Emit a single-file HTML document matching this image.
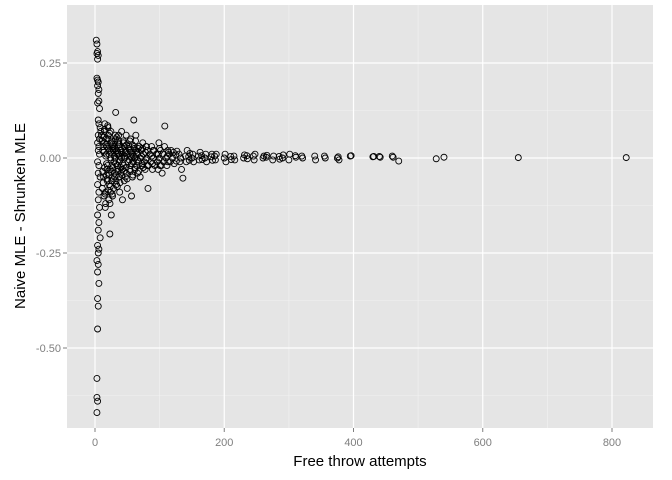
<!DOCTYPE html>
<html><head><meta charset="utf-8"><style>
body{margin:0;background:#fff;}
svg{display:block;font-family:"Liberation Sans",sans-serif;}
</style></head><body>
<svg id="chart" width="672" height="480" viewBox="0 0 672 480">
<rect x="67" y="5" width="586" height="423" fill="#E5E5E5"/>
<g id="grid"></g>
<g id="axes"></g>
<g id="points"></g>
<text x="360" y="466" text-anchor="middle" font-size="15" fill="#000">Free throw attempts</text>
<text transform="translate(25,216) rotate(-90)" text-anchor="middle" font-size="15" fill="#000">Naive MLE - Shrunken MLE</text>
</svg>
<script>
const xTicks=[0,200,400,600,800];
const xMinor=[100,300,500,700];
const yTicks=[0.25,0,-0.25,-0.5];
const yTickLabels=["0.25","0.00","-0.25","-0.50"];
const yMinor=[0.125,-0.125,-0.375,-0.625];
const spineX=[2,3,4,3,5,4,3,4,5,4,6,5,6,4,7,5,6,8,9,5,7,4,6,5,7,4,6,5,8,4,6,5,7,4,6,5,8,4,6,5,3,5,4,6,4,5,4,3,3,4,3];
const spineY=[0.31,0.30,0.28,0.275,0.27,0.26,0.21,0.205,0.2,0.19,0.18,0.17,0.15,0.145,0.13,0.10,0.09,0.08,0.07,0.06,0.05,0.04,0.03,0.02,0.01,-0.01,-0.02,-0.04,-0.05,-0.07,-0.09,-0.11,-0.13,-0.15,-0.17,-0.19,-0.21,-0.23,-0.24,-0.25,-0.27,-0.28,-0.3,-0.33,-0.37,-0.39,-0.45,-0.58,-0.63,-0.64,-0.67];
const groupX=[10,12,15,18,20,22,25,28,30,33,36,40,43,46,50,54,58,62,66,70,75,80,85,90,95,100,105,110,115,120,130,140,150,160,170,185,200,215,230,245,260,275,290,300,320,340,355,375,395,430,440,460,470,528,540,655,822];
const groupY=[[0.06,-0.08,0.03,-0.1,0.09,-0.12],[0.02,-0.05,0.07,-0.13,0.05,-0.03],[0.04,-0.09,0.01,-0.06,0.08,-0.11],[0.03,-0.02,0.06,-0.07,-0.12,0.0],[0.05,-0.04,0.02,-0.09,-0.15],[0.01,-0.03,0.07,-0.06,-0.1],[0.04,-0.02,0.03,-0.08,-0.05,0.06],[0.02,-0.01,-0.04,0.05,-0.07],[0.03,0.0,-0.06,0.01,-0.03,0.06],[0.02,-0.02,0.04,-0.05,-0.09],[0.01,-0.01,0.03,-0.04,0.07,-0.11],[0.02,0.0,-0.03,0.04,-0.06],[0.01,-0.02,0.03,-0.05,0.06],[0.0,0.02,-0.04,-0.08],[0.01,-0.01,0.03,-0.03,0.05,-0.1],[0.02,-0.02,0.0,-0.05],[0.01,-0.01,0.03,-0.03,0.06],[0.0,0.02,-0.02,-0.04],[0.01,-0.01,0.03,-0.05],[0.0,0.02,-0.02,0.04],[0.01,-0.01,-0.03,0.03],[0.0,0.02,-0.02],[0.01,-0.01,0.03,-0.03],[0.0,0.02,-0.02],[0.01,-0.01,-0.03,0.04],[0.0,0.02,-0.02,-0.04],[0.01,-0.01,0.03],[0.0,-0.02,0.02],[0.01,-0.01,0.02],[0.0,0.015,-0.015],[0.01,-0.01,0.0,-0.03],[0.005,-0.01,0.02],[0.0,0.01,-0.01],[0.005,-0.005,0.015],[0.0,0.01,-0.01],[0.005,-0.005,0.01],[0.0,0.01,-0.01],[0.005,-0.005],[0.0,0.008],[0.005,-0.005,0.01],[0.0,0.005],[-0.005,0.005],[0.0,0.008],[-0.005,0.01],[0.005,0.0],[0.005,-0.005],[0.005,0.0],[0.0,0.003,-0.005],[0.005,0.006],[0.003,0.004],[0.004,0.002],[0.005,0.002],[-0.008],[-0.002],[0.002],[0.001],[0.001]];
const group2X=[11,14,17,21,24,27,31,35,38,42,47,52,56,60,65,72,78,88,98,112,125,145,165,180,210,235,265,285,310];
const group2Y=[[0.045,-0.035,-0.065,0.015,0.075],[0.055,-0.025,-0.095,0.005,-0.045],[0.035,-0.015,-0.055,0.085,-0.085],[0.025,-0.045,0.065,-0.075,-0.005],[0.015,-0.035,0.045,-0.095,0.025],[0.035,-0.025,-0.055,0.005,0.045],[0.025,-0.015,-0.045,0.055,-0.075],[0.015,-0.035,0.045,0.005,-0.065],[0.035,-0.005,-0.025,0.015,-0.045],[0.025,-0.015,0.045,-0.035,0.005],[0.015,-0.025,0.035,-0.055],[0.025,-0.005,0.045,-0.035,0.005],[0.015,-0.015,0.035,-0.045],[0.005,0.025,-0.025,0.045],[0.015,-0.005,0.025,-0.035],[0.005,-0.015,0.025,-0.025],[0.015,-0.005,0.03,-0.02],[0.005,-0.015,0.02],[0.01,-0.005,0.025,-0.02],[0.005,-0.01,0.015],[0.008,-0.008,0.018],[0.004,-0.006,0.012],[0.006,-0.004],[0.003,0.01,-0.006],[0.004,-0.004],[0.006,-0.002],[0.002,0.007],[0.004,-0.003],[0.006,0.002]];
const extraX=[32,60,108,23,82,136];
const extraY=[0.12,0.10,0.084,-0.2,-0.08,-0.053];
const NS="http://www.w3.org/2000/svg";
function sx(v){return 95+v*(129.25/200);}
function sy(v){return 158-v*380;}
const grid=document.getElementById('grid'),axes=document.getElementById('axes'),pts=document.getElementById('points');
function line(g,x1,y1,x2,y2,c,w){const l=document.createElementNS(NS,'line');l.setAttribute('x1',x1);l.setAttribute('y1',y1);l.setAttribute('x2',x2);l.setAttribute('y2',y2);l.setAttribute('stroke',c);l.setAttribute('stroke-width',w);g.appendChild(l);return l;}
xMinor.forEach(v=>{const l=line(grid,sx(v),5,sx(v),428,'#F2F2F2',0.6);

});
yMinor.forEach(v=>{const l=line(grid,67,sy(v),653,sy(v),'#F2F2F2',0.6);

});
xTicks.forEach(v=>{const l=line(grid,sx(v),5,sx(v),428,'#fff',1.2);


const t=line(axes,sx(v),428,sx(v),432,'#7F7F7F',1);


const tx=document.createElementNS(NS,'text');tx.setAttribute('x',sx(v));tx.setAttribute('y',446);tx.setAttribute('text-anchor','middle');tx.setAttribute('font-size','11');tx.setAttribute('fill','#7F7F7F');tx.textContent=v;


axes.appendChild(tx);});
yTicks.forEach((v,i)=>{const l=line(grid,67,sy(v),653,sy(v),'#fff',1.2);


const t=line(axes,63,sy(v),67,sy(v),'#7F7F7F',1);


const tx=document.createElementNS(NS,'text');tx.setAttribute('x',61);tx.setAttribute('y',sy(v)+4);tx.setAttribute('text-anchor','end');tx.setAttribute('font-size','11');tx.setAttribute('fill','#7F7F7F');tx.textContent=yTickLabels[i];


axes.appendChild(tx);});
function dot(x,y){const c=document.createElementNS(NS,'circle');c.setAttribute('cx',sx(x));c.setAttribute('cy',sy(y));c.setAttribute('r',3);c.setAttribute('fill','none');c.setAttribute('stroke','#000');c.setAttribute('stroke-width',0.9);


pts.appendChild(c);}
spineX.forEach((x,i)=>dot(x,spineY[i]));
groupX.forEach((x,i)=>groupY[i].forEach((y,j)=>dot(x+j*1.3,y)));
group2X.forEach((x,i)=>group2Y[i].forEach((y,j)=>dot(x+j*0.9,y)));
extraX.forEach((x,i)=>dot(x,extraY[i]));
</script>
</body></html>
